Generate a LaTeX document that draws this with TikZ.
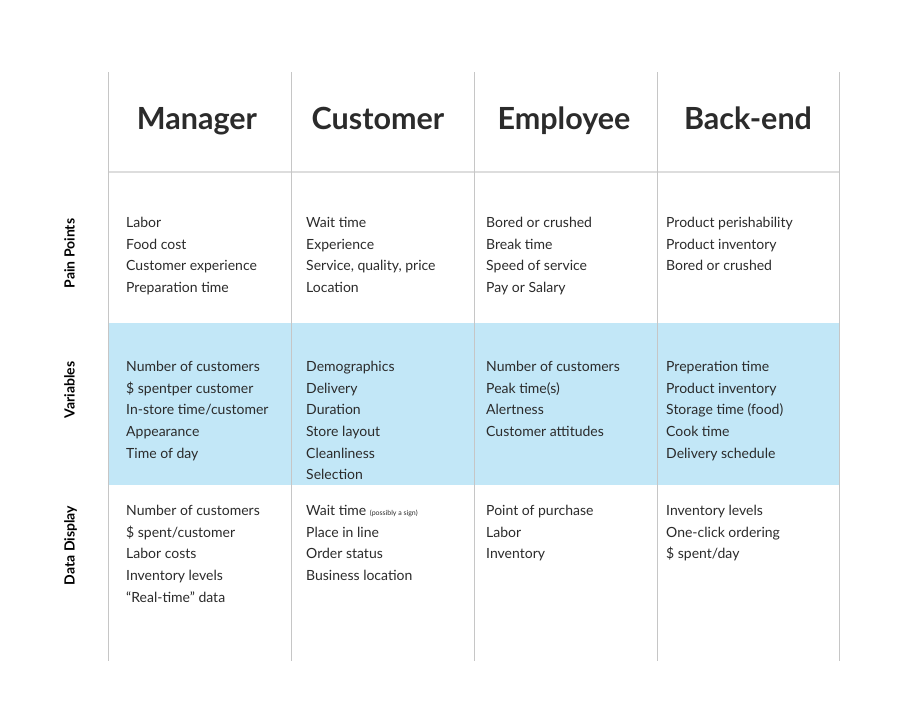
\documentclass[tikz,border=0pt]{standalone}
\usepackage{fontspec}
\setmainfont{Lato}
\usetikzlibrary{calc}
\definecolor{gridgray}{HTML}{C6C6C6}
\definecolor{headline}{HTML}{DDDDDD}
\definecolor{bandblue}{HTML}{C2E7F7}
\definecolor{ink}{HTML}{2B2B2B}
\tikzset{
  cell/.style={anchor=base west, inner sep=0pt, text=ink, font=\fontsize{14}{16}\selectfont},
  head/.style={anchor=base, inner sep=0pt, text=ink, font=\fontsize{30.5}{33}\selectfont\bfseries},
  rowlabel/.style={anchor=base, rotate=90, inner sep=0pt, text=black, font=\fontsize{14}{16}\selectfont\bfseries},
}

\begin{document}
\begin{tikzpicture}[x=1pt,y=-1pt]
    \useasboundingbox (0,0) rectangle (900,720);
    \fill [white] (0,0) rectangle (900,720);

    % Variables band
    \fill [bandblue] (108,323) rectangle (839,485);

    % Grid
    \draw [headline, line width=1.5pt] (108,172) -- (839,172);
    \foreach \x in {108,291,474,657,839} {
        \draw [gridgray, line width=1pt] (\x,72) -- (\x,661);
    }

    % Column heads
    \node [head] (manager) at (197,129) {Manager};
    \node [head] (customer) at (378,129) {Customer};
    \node [head] (employee) at (564,129) {Employee};
    \node [head] (backend) at (748,129) {Back-end};

    % Row labels
    \node [rowlabel] (pain) at (74.5,253.5) {Pain Points};
    \node [rowlabel] (vars) at (74.5,390) {Variables};
    \node [rowlabel] (display) at (74.5,545.5) {Data Display};

    % Pain Points
    \foreach \t [count=\i] in {Labor, Food cost, Customer experience, Preparation time} {
        \node [cell] (mgr-pain-\i) at (126,{206+21.5*\i}) {\t};
    }
    \foreach \t [count=\i] in {Wait time, Experience, {Service, quality, price}, Location} {
        \node [cell] (cus-pain-\i) at (306,{206+21.5*\i}) {\t};
    }
    \foreach \t [count=\i] in {Bored or crushed, Break time, Speed of service, Pay or Salary} {
        \node [cell] (emp-pain-\i) at (486,{206+21.5*\i}) {\t};
    }
    \foreach \t [count=\i] in {Product perishability, Product inventory, Bored or crushed} {
        \node [cell] (bck-pain-\i) at (666,{206+21.5*\i}) {\t};
    }

    % Variables
    \foreach \t [count=\i] in {Number of customers, \$ spentper customer, In-store time/customer, Appearance, Time of day} {
        \node [cell] (mgr-var-\i) at (126,{350.1+21.6*\i}) {\t};
    }
    \foreach \t [count=\i] in {Demographics, Delivery, Duration, Store layout, Cleanliness, Selection} {
        \node [cell] (cus-var-\i) at (306,{350.1+21.6*\i}) {\t};
    }
    \foreach \t [count=\i] in {Number of customers, Peak time(s), Alertness, Customer attitudes} {
        \node [cell] (emp-var-\i) at (486,{350.1+21.6*\i}) {\t};
    }
    \foreach \t [count=\i] in {Preperation time, Product inventory, Storage time (food), Cook time, Delivery schedule} {
        \node [cell] (bck-var-\i) at (666,{350.1+21.6*\i}) {\t};
    }

    % Data Display
    \foreach \t [count=\i] in {Number of customers, \$ spent/customer, Labor costs, Inventory levels, “Real-time” data} {
        \node [cell] (mgr-data-\i) at (126,{494.1+21.6*\i}) {\t};
    }
    \foreach \t [count=\i] in {Wait time {\fontsize{7}{7}\selectfont(possibly a sign)}, Place in line, Order status, Business location} {
        \node [cell] (cus-data-\i) at (306,{494.1+21.6*\i}) {\t};
    }
    \foreach \t [count=\i] in {Point of purchase, Labor, Inventory} {
        \node [cell] (emp-data-\i) at (486,{494.1+21.6*\i}) {\t};
    }
    \foreach \t [count=\i] in {Inventory levels, One-click ordering, \$ spent/day} {
        \node [cell] (bck-data-\i) at (666,{494.1+21.6*\i}) {\t};
    }
\end{tikzpicture}
\end{document}
